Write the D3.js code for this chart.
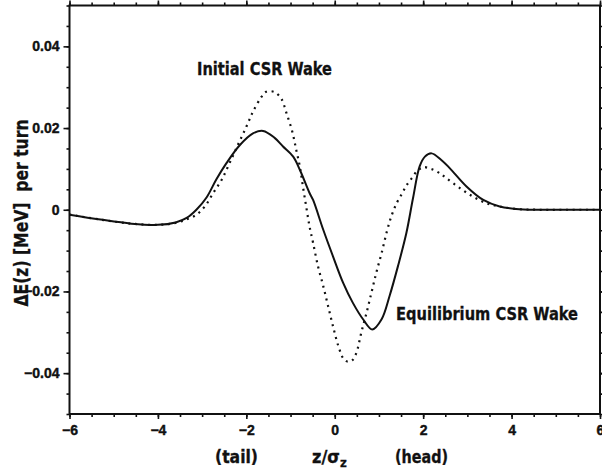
<!DOCTYPE html>
<html>
<head>
<meta charset="utf-8">
<script src="https://cdn.jsdelivr.net/npm/d3@7"></script>
<style>
  html, body { margin: 0; padding: 0; background: #fff; }
  svg { display: block; }
  text { fill: #111; font-weight: bold; }
</style>
</head>
<body>
<div id="chart"></div>
<script>
// ---- Data ----
const eqX = [-6, -5.3, -4.6, -4.0, -3.6, -3.35, -3.13, -2.9, -2.68, -2.45, -2.15, -1.85, -1.62, -1.36, -1.17, -0.94, -0.79, -0.57, -0.49, -0.26, -0.04, 0.19, 0.41, 0.64, 0.85, 1.06, 1.24, 1.43, 1.62, 1.77, 1.92, 2.04, 2.19, 2.41, 2.6, 2.98, 3.36, 3.73, 4.1, 4.6, 5.2, 6];
const eqV = [-0.0012, -0.0024, -0.0034, -0.0037, -0.0031, -0.002, 0.0, 0.003, 0.0074, 0.0114, 0.0158, 0.0187, 0.0193, 0.0176, 0.0155, 0.013, 0.0098, 0.0041, 0.0024, -0.0049, -0.0114, -0.0179, -0.0228, -0.0268, -0.0293, -0.0268, -0.0211, -0.0138, -0.0057, 0.0028, 0.0106, 0.013, 0.0138, 0.0122, 0.0102, 0.0057, 0.0024, 0.0008, 0.0002, 0.0, 0.0, 0.0];

const initX = [-6, -5.3, -4.6, -4.0, -3.6, -3.36, -3.13, -2.94, -2.75, -2.56, -2.38, -2.19, -2.0, -1.85, -1.66, -1.55, -1.36, -1.21, -1.09, -0.96, -0.87, -0.79, -0.72, -0.64, -0.57, -0.49, -0.38, -0.26, -0.15, -0.04, 0.08, 0.2, 0.3, 0.4, 0.49, 0.6, 0.72, 0.83, 0.94, 1.06, 1.17, 1.28, 1.4, 1.53, 1.62, 1.74, 1.85, 2.0, 2.2, 2.38, 2.53, 2.83, 3.13, 3.43, 3.73, 4.1, 4.6, 5.2, 6];
const initV = [-0.0012, -0.0024, -0.0034, -0.0037, -0.0032, -0.0024, -0.0012, 0.0008, 0.0041, 0.0073, 0.0114, 0.0159, 0.0203, 0.024, 0.0276, 0.0289, 0.0288, 0.0272, 0.0236, 0.0191, 0.0146, 0.0106, 0.0057, 0.0004, -0.0041, -0.0081, -0.0138, -0.0187, -0.0236, -0.0285, -0.0333, -0.0365, -0.0372, -0.0368, -0.035, -0.0301, -0.0252, -0.0203, -0.0154, -0.0106, -0.0057, -0.0016, 0.0016, 0.0041, 0.0059, 0.0077, 0.0093, 0.0104, 0.0099, 0.0089, 0.0077, 0.0053, 0.0032, 0.0016, 0.0008, 0.0002, 0, 0, 0];

const xMajorTicks = [-6, -4, -2, 0, 2, 4, 6];
const yMajorTicks = [-0.04, -0.02, 0, 0.02, 0.04];
const xTickLabels = ["\u22126", "\u22124", "\u22122", "0", "2", "4", "6"];
const yTickLabels = ["\u22120.04", "\u22120.02", "0", "0.02", "0.04"];

const labelInitial = "Initial CSR Wake";
const labelEquil = "Equilibrium CSR Wake";
const yTitle = "\u0394E(z) [MeV]\u00a0\u00a0per turn";

// ---- Layout ----
const W = 602, H = 473;
const m = { left: 69.5, top: 5.5, right: 2, bottom: 59 };
const iw = W - m.left - m.right, ih = H - m.top - m.bottom;

const svg = d3.select("#chart").append("svg").attr("width", W).attr("height", H);
const g = svg.append("g").attr("transform", `translate(${m.left},${m.top})`);

const x = d3.scaleLinear().domain([-6, 6]).range([0, iw]);
const y = d3.scaleLinear().domain([-0.05, 0.05]).range([ih, 0]);

const xMinor = d3.range(-6, 6.001, 0.5);
const yMinor = d3.range(-0.05, 0.05001, 0.005).map(v => +v.toFixed(4));

const sans = "'Liberation Sans', Arial, Helvetica, sans-serif";
const narrow = "'Liberation Sans Narrow', 'Arial Narrow', 'DejaVu Sans Condensed', sans-serif";

function styleAxis(sel) {
  sel.select(".domain").remove();
  sel.selectAll(".tick line").attr("stroke", "#111").attr("stroke-width", 1.6);
}
function styleLabels(sel) {
  sel.selectAll("text").attr("font-family", sans).attr("font-size", 14)
    .attr("font-weight", "bold").attr("fill", "#111")
    .attr("stroke", "#111").attr("stroke-width", 0.4);
}

// minor ticks
g.append("g").attr("transform", `translate(0,${ih})`)
  .call(d3.axisBottom(x).tickValues(xMinor).tickSize(3).tickFormat("")).call(styleAxis);
g.append("g")
  .call(d3.axisTop(x).tickValues(xMinor).tickSize(3).tickFormat("")).call(styleAxis);
g.append("g")
  .call(d3.axisLeft(y).tickValues(yMinor).tickSize(3).tickFormat("")).call(styleAxis);
g.append("g").attr("transform", `translate(${iw},0)`)
  .call(d3.axisRight(y).tickValues(yMinor).tickSize(3).tickFormat("")).call(styleAxis);

// major ticks
g.append("g").attr("transform", `translate(0,${ih})`)
  .call(d3.axisBottom(x).tickValues(xMajorTicks).tickSize(5).tickPadding(6)
    .tickFormat((d, i) => xTickLabels[i])).call(styleAxis).call(styleLabels);
g.append("g")
  .call(d3.axisTop(x).tickValues(xMajorTicks).tickSize(5).tickFormat("")).call(styleAxis);
g.append("g")
  .call(d3.axisLeft(y).tickValues(yMajorTicks).tickSize(6).tickPadding(4)
    .tickFormat((d, i) => yTickLabels[i])).call(styleAxis).call(styleLabels);
g.append("g").attr("transform", `translate(${iw},0)`)
  .call(d3.axisRight(y).tickValues(yMajorTicks).tickSize(5).tickFormat("")).call(styleAxis);

// frame
g.append("rect").attr("x", 0).attr("y", 0).attr("width", iw).attr("height", ih)
  .attr("fill", "none").attr("stroke", "#111").attr("stroke-width", 2);

// curves
const line = d3.line().x(d => x(d[0])).y(d => y(d[1])).curve(d3.curveCatmullRom.alpha(0.5));
const initData = initX.map((v, i) => [v, initV[i]]);
const eqData = eqX.map((v, i) => [v, eqV[i]]);

g.append("path").datum(initData).attr("d", line)
  .attr("fill", "none").attr("stroke", "#111").attr("stroke-width", 2.2)
  .attr("stroke-dasharray", "2,4.6");
g.append("path").datum(eqData).attr("d", line)
  .attr("fill", "none").attr("stroke", "#111").attr("stroke-width", 2);

// annotations
const annStroke = sel => sel.attr("stroke", "#111").attr("stroke-width", 0.3);
svg.append("text").attr("x", 197).attr("y", 75)
  .attr("font-family", narrow).attr("font-size", 18)
  .attr("textLength", 135).attr("lengthAdjust", "spacingAndGlyphs")
  .call(annStroke).text(labelInitial);
svg.append("text").attr("x", 396).attr("y", 320)
  .attr("font-family", narrow).attr("font-size", 18)
  .attr("textLength", 182).attr("lengthAdjust", "spacingAndGlyphs")
  .call(annStroke).text(labelEquil);

// y title
svg.append("text")
  .attr("transform", "translate(28,213) rotate(-90)")
  .attr("text-anchor", "middle")
  .attr("font-family", narrow).attr("font-size", 19)
  .attr("textLength", 187).attr("lengthAdjust", "spacingAndGlyphs")
  .call(annStroke).text(yTitle);

// x title pieces
svg.append("text").attr("x", 215).attr("y", 463)
  .attr("font-family", narrow).attr("font-size", 18)
  .attr("textLength", 43).attr("lengthAdjust", "spacingAndGlyphs")
  .call(annStroke).text("(tail)");
const xt = svg.append("text").attr("x", 312).attr("y", 463)
  .attr("font-family", narrow).attr("font-size", 18).call(annStroke);
xt.append("tspan").text("z/\u03c3");
xt.append("tspan").attr("font-size", 13).attr("dy", 4).text("z");
svg.append("text").attr("x", 395).attr("y", 463)
  .attr("font-family", narrow).attr("font-size", 18)
  .attr("textLength", 53).attr("lengthAdjust", "spacingAndGlyphs")
  .call(annStroke).text("(head)");
</script>
</body>
</html>
